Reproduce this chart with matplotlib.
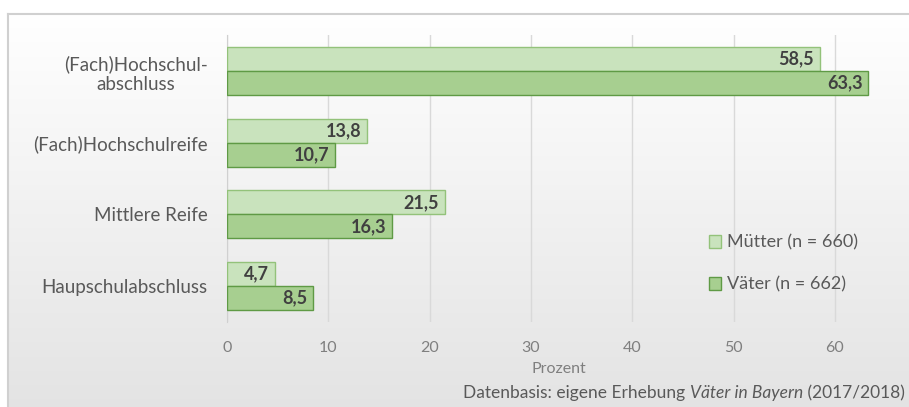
import matplotlib.pyplot as plt
import numpy as np

plt.rcParams['font.family'] = ['Lato', 'DejaVu Sans']

categories = ['(Fach)Hochschul-\nabschluss', '(Fach)Hochschulreife', 'Mittlere Reife', 'Haupschulabschluss']
muetter = [58.5, 13.8, 21.5, 4.7]
vaeter = [63.3, 10.7, 16.3, 8.5]
series_names = ['Mütter (n = 660)', 'Väter (n = 662)']
xticks = [0, 10, 20, 30, 40, 50, 60]
source_parts = [('Datenbasis: eigene Erhebung ', 'normal'), ('Väter in Bayern', 'italic'), (' (2017/2018)', 'normal')]

W, H = 909, 407
fig = plt.figure(figsize=(W / 100, H / 100), dpi=100)

# chart area: grey gradient with thin border, white strip above (runs off right/bottom edge)
bg = fig.add_axes([8 / W, -0.02, 1.0, 1.02 - 14 / H], zorder=-10)
grad = np.linspace(1.0, 0.89, 256).reshape(-1, 1)
bg.imshow(np.dstack([grad, grad, grad]), aspect='auto', extent=[0, 1, 0, 1])
bg.set_xticks([])
bg.set_yticks([])
for s in bg.spines.values():
    s.set_color('#d0d0d0')
    s.set_linewidth(1.5)

ax = fig.add_axes([227 / W, 85 / H, 0.73, 0.705])
ax.set_facecolor('none')

y = np.arange(len(categories))
h = 0.335
ax.barh(y - h / 2, muetter, height=h, color='#c9e3bd', edgecolor='#93c27a', linewidth=1, label=series_names[0], zorder=3)
ax.barh(y + h / 2, vaeter, height=h, color='#a7cf90', edgecolor='#5f9a45', linewidth=1, label=series_names[1], zorder=3)

for i in range(len(categories)):
    for val, off in ((muetter[i], -h / 2), (vaeter[i], h / 2)):
        ax.annotate(f'{val:.1f}'.replace('.', ','), (val, y[i] + off), xytext=(-4, 0),
                    textcoords='offset points', ha='right', va='center',
                    fontsize=13, fontweight='bold', color='#404040', zorder=4)

ax.set_ylim(len(categories) - 0.5, -0.5)
ax.set_xlim(0, 65.5)
ax.set_xticks(xticks)
ax.set_xticklabels([str(t) for t in xticks], color='#7f7f7f', fontsize=11.5)
ax.set_yticks(y)
ax.set_yticklabels(categories, color='#595959', fontsize=13.5, multialignment='center')
ax.tick_params(axis='both', length=0)
ax.tick_params(axis='x', pad=14)
ax.tick_params(axis='y', pad=14)
ax.grid(axis='x', color='#d9d9d9', linewidth=1, zorder=0)
for s in ax.spines.values():
    s.set_visible(False)
ax.spines['left'].set_visible(True)
ax.spines['left'].set_color('#d0d0d0')

ax.set_xlabel('Prozent', color='#7f7f7f', fontsize=11.5, labelpad=5)

leg = ax.legend(loc='lower right', bbox_to_anchor=(0.975, 0.045), frameon=False, fontsize=13,
                handlelength=0.7, handleheight=0.7, handletextpad=0.3, labelspacing=1.45)
for t in leg.get_texts():
    t.set_color('#595959')

# source line, right-aligned, with italic title
renderer = fig.canvas.get_renderer()
x = W - 4
for text, style in reversed(source_parts):
    t = fig.text(x / W, 6 / H, text, ha='right', va='bottom', fontsize=12.5, color='#595959', style=style)
    x -= t.get_window_extent(renderer).width

fig.savefig('out.png', dpi=100)
